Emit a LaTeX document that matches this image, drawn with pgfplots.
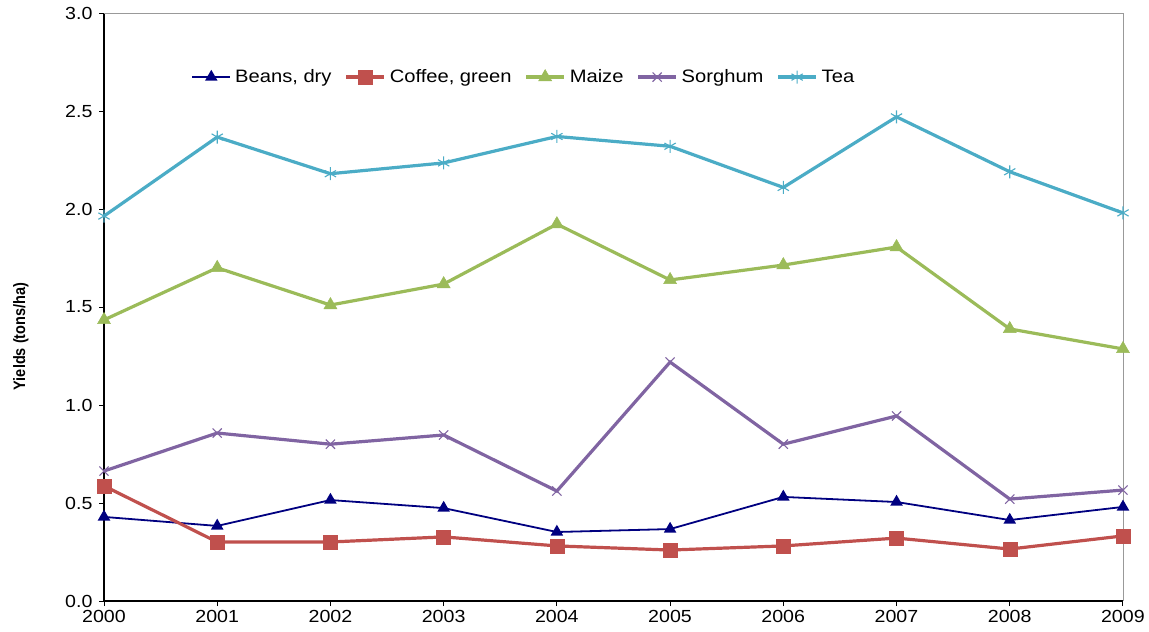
\documentclass[border=0pt]{standalone}
\usepackage{fontspec}
\setmainfont{Liberation Sans}[FakeStretch=1.12]
\newfontfamily\labfont{Liberation Sans}[FakeStretch=0.88]
\usepackage{pgfplots}
\pgfplotsset{compat=1.18}
\definecolor{cbean}{HTML}{000080}
\definecolor{ccoffee}{HTML}{C0504D}
\definecolor{cmaize}{HTML}{9BBB59}
\definecolor{csorg}{HTML}{8064A2}
\definecolor{ctea}{HTML}{4BACC6}
\begin{document}
\begin{tikzpicture}[x=1pt,y=1pt]
\useasboundingbox (-104,-31) rectangle (1045,601);
\begin{axis}[
  at={(0,0)}, anchor=south west,
  scale only axis, width=1019pt, height=588pt,
  xmin=2000, xmax=2009, ymin=0, ymax=3,
  xtick={2000,...,2009},
  ytick={0,0.5,...,3},
  axis x line*=bottom, axis y line*=left,
  axis line style={black, line width=1.8pt},
  every outer x axis line/.append style={-},
  every outer y axis line/.append style={-},
  tick style={black, line width=0.9pt},
  major tick length=5pt,
  tick align=outside,
  xticklabel style={/pgf/number format/1000 sep={}, font=\fontsize{17.5}{19}\selectfont, yshift=-1pt},
  yticklabel style={/pgf/number format/fixed, /pgf/number format/precision=1, /pgf/number format/fixed zerofill, font=\fontsize{17.5}{19}\selectfont, xshift=-3pt},
  /pgf/number format/assume math mode=true,
  ylabel={\labfont\bfseries Yields (tons/ha)},
  ylabel style={font=\fontsize{16.5}{18}\selectfont, at={(-72pt,0.45)}, anchor=south},
  legend columns=5,
  legend style={draw=none, fill=none, at={(0.412,0.891)}, anchor=center, font=\fontsize{18}{20}\selectfont,
    /tikz/every even column/.append style={column sep=11pt},
    /tikz/every odd column/.append style={column sep=2pt}},
  legend image code/.code={\draw[mark repeat=2,mark phase=2] plot coordinates {(0pt,0pt) (19pt,0pt) (38pt,0pt)};},
  legend cell align=left,
  clip=false,
]
\addplot[cbean, line width=1.8pt, mark=triangle*, mark size=5.5pt, mark options={solid}] coordinates {
(2000,0.429) (2001,0.383) (2002,0.515) (2003,0.474) (2004,0.352) (2005,0.367) (2006,0.531) (2007,0.505) (2008,0.413) (2009,0.480)};
\addlegendentry{Beans, dry}
\addplot[ccoffee, line width=3.2pt, mark=square*, mark size=7pt, mark options={solid, line width=0.5pt}] coordinates {
(2000,0.587) (2001,0.301) (2002,0.301) (2003,0.327) (2004,0.281) (2005,0.260) (2006,0.281) (2007,0.321) (2008,0.265) (2009,0.332)};
\addlegendentry{Coffee, green}
\addplot[cmaize, line width=3.2pt, mark=triangle*, mark size=7.5pt, mark options={solid, line width=0.5pt}] coordinates {
(2000,1.434) (2001,1.700) (2002,1.510) (2003,1.617) (2004,1.923) (2005,1.638) (2006,1.714) (2007,1.806) (2008,1.388) (2009,1.286)};
\addlegendentry{Maize}
\addplot[csorg, line width=3.2pt, mark=x, mark size=6.5pt, mark options={solid, line width=1.1pt}] coordinates {
(2000,0.663) (2001,0.857) (2002,0.800) (2003,0.847) (2004,0.561) (2005,1.219) (2006,0.800) (2007,0.944) (2008,0.520) (2009,0.566)};
\addlegendentry{Sorghum}
\addplot[ctea, line width=3.2pt, mark=asterisk, mark size=6.5pt, mark options={solid, line width=1.1pt}] coordinates {
(2000,1.964) (2001,2.367) (2002,2.180) (2003,2.235) (2004,2.370) (2005,2.320) (2006,2.110) (2007,2.470) (2008,2.190) (2009,1.980)};
\addlegendentry{Tea}
\draw[gray!80, line width=0.9pt] (rel axis cs:0,1) -- (rel axis cs:1,1) -- (rel axis cs:1,0);
\end{axis}
\end{tikzpicture}
\end{document}
